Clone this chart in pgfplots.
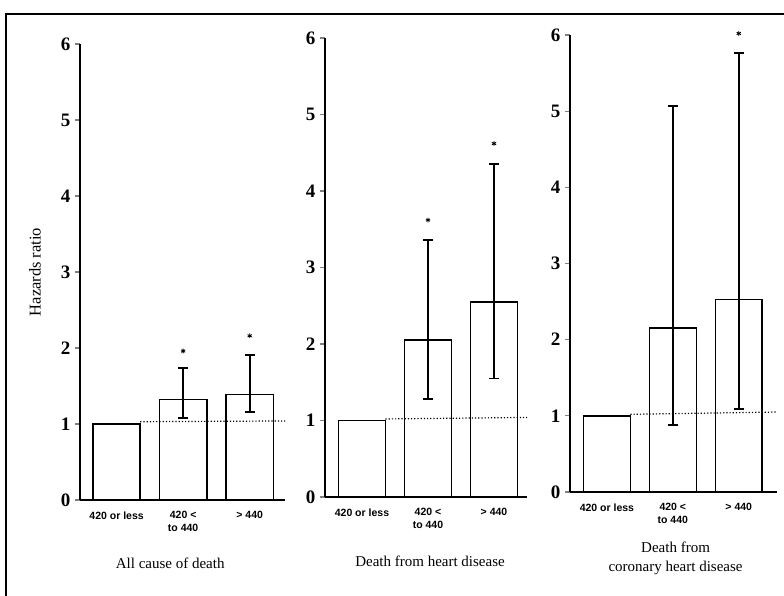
\documentclass[border=0pt]{standalone}
\usepackage{pgfplots}
\pgfplotsset{compat=1.18}
\usepackage{fontspec}
\setmainfont{Liberation Serif}
\newfontfamily\sansf{Liberation Sans}
\pgfplotsset{
  hrpanel/.style={
    scale only axis,
    anchor=south west,
    ymin=0, ymax=6,
    ytick={0,1,2,3,4,5,6},
    xtick={0,1,2},
    xticklabels={420 or less,{420 <\\to 440},{> 440}},
    axis x line*=bottom,
    axis y line*=left,
    axis line style={line width=1.5pt},
    tick align=outside,
    ytick style={line width=1.1pt},
    major tick length=5pt,
    xtick style={draw=none},
    clip=false,
    /pgf/number format/assume math mode=true,
    yticklabel style={font=\fontsize{19}{19}\selectfont\bfseries, xshift=-1pt},
    xticklabel style={font=\sansf\bfseries\fontsize{10.5}{12.5}\selectfont, align=center, anchor=north, yshift=-3pt},
    xlabel style={font=\fontsize{15}{19}\selectfont, align=center, anchor=center},
  },
  hrbars/.style={
    ybar, bar width=0.71, fill=white, draw=black, line width=1.5pt,
    error bars/.cd, y dir=both, y explicit,
    error bar style={line width=1.6pt},
    error mark options={rotate=90, mark size=5pt, line width=1.6pt},
  },
  hrdot/.style={dotted, line width=1.2pt, forget plot},
  hrstar/.style={only marks, mark=asterisk, mark size=2.4pt, mark options={line width=0.9pt}},
}
\begin{document}
\begin{tikzpicture}[x=1pt,y=1pt]
\useasboundingbox (0,0) rectangle (784,596);
\draw[line width=1.3pt] (6,0) -- (6,582) -- (784,582);

% Panel 1
\begin{axis}[hrpanel, at={(80pt,96pt)}, width=205pt, height=456pt,
  xmin=-0.55, xmax=2.53,
  xlabel={All cause of death},
  xlabel style={at={(axis description cs:0.44,0)}, yshift=-63pt},
  ylabel={Hazards ratio},
  ylabel style={at={(axis description cs:-0.22,0.5)}, anchor=center, font=\fontsize{16.5}{18}\selectfont},
]
\addplot[hrbars] coordinates {(0,1) (1,1.32) += (0,0.42) -= (0,0.24) (2,1.39) += (0,0.52) -= (0,0.23)};
\addplot[hrdot] coordinates {(0.355,1.03) (2.53,1.04)};
\addplot[hrstar] coordinates {(1,1.96) (2,2.16)};
\end{axis}

% Panel 2
\begin{axis}[hrpanel, at={(325pt,99pt)}, width=202pt, height=459pt,
  xmin=-0.56, xmax=2.5,
  xlabel={Death from heart disease},
  xlabel style={at={(axis description cs:0.52,0)}, yshift=-64pt},
]
\addplot[hrbars] coordinates {(0,1) (1,2.05) += (0,1.31) -= (0,0.77) (2,2.55) += (0,1.8) -= (0,1.0)};
\addplot[hrdot] coordinates {(0.355,1.02) (2.5,1.04)};
\addplot[hrstar] coordinates {(1,3.62) (2,4.62)};
\end{axis}

% Panel 3
\begin{axis}[hrpanel, at={(570pt,104pt)}, width=207pt, height=457pt,
  xmin=-0.56, xmax=2.58,
  xlabel={Death from\\coronary heart disease},
  xlabel style={at={(axis description cs:0.51,0)}, yshift=-66pt},
]
\addplot[hrbars] coordinates {(0,1) (1,2.15) += (0,2.92) -= (0,1.27) (2,2.53) += (0,3.23) -= (0,1.44)};
\addplot[hrdot] coordinates {(0.355,1.02) (2.58,1.05)};
\addplot[hrstar] coordinates {(2,6.02)};
\end{axis}
\end{tikzpicture}
\end{document}
